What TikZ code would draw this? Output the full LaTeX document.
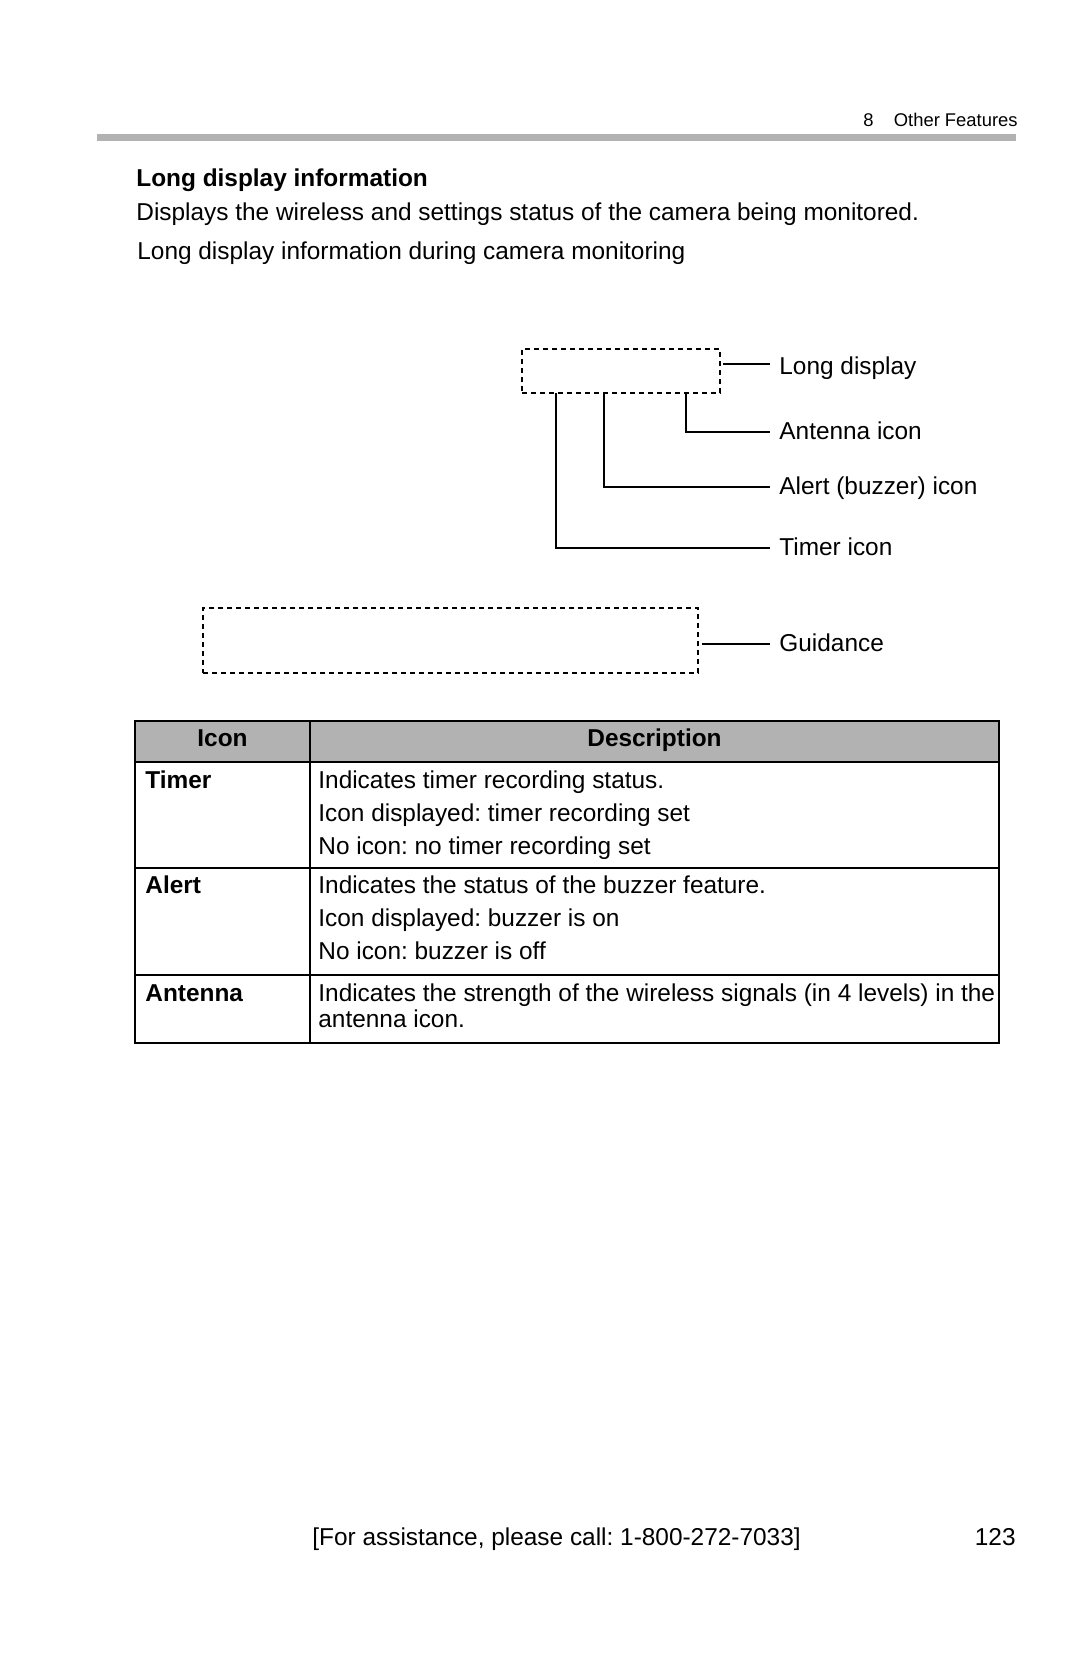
\documentclass[tikz,border=0pt]{standalone}
\usepackage{fontspec}
\setmainfont{Liberation Sans}
\usetikzlibrary{positioning}
\frenchspacing

\newcommand{\bodyfont}{\fontsize{12.2}{14}\selectfont}
\newcommand{\headfont}{\fontsize{9.2}{11}\selectfont}

\tikzset{
  txt/.style={anchor=west, inner xsep=0pt, inner ysep=0pt, text height=0.72em, text depth=0pt, yshift=-1pt, font=\bodyfont},
  bold/.style={txt, font=\bodyfont\bfseries},
  callout/.style={txt, inner xsep=4.5pt},
  dashbox/.style={draw, line width=0.9pt, dash pattern=on 2.5pt off 2pt, inner sep=0pt},
  leader/.style={line width=0.9pt},
  tbl/.style={line width=0.6pt},
}

\begin{document}
\begin{tikzpicture}[x=0.5pt, y=-0.5pt]
    \useasboundingbox (0,0) rectangle (1080,1669);

    % page header
    \node[txt, anchor=east, font=\headfont] (chapter) at (1018,117) {8\hspace{1.1em}Other Features};
    \fill[black!30] (97,134) rectangle (1016,141.5);

    \node[bold] (title) at (136,177) {Long display information};
    \node[txt] (intro) at (136,211) {Displays the wireless and settings status of the camera being monitored.};
    \node[txt] (caption) at (137,250) {Long display information during camera monitoring};

    % screen parts
    \node[dashbox, minimum width=99pt, minimum height=22pt] (ldbox) at (621,371) {};
    \node[dashbox, minimum width=247.5pt, minimum height=32.5pt] (gdbox) at (450.5,640.5) {};

    \node[callout] (ldlabel) at (770,365) {Long display};
    \node[callout] (antlabel) at (770,430) {Antenna icon};
    \node[callout] (alertlabel) at (770,485) {Alert (buzzer) icon};
    \node[callout] (timerlabel) at (770,546) {Timer icon};
    \node[callout] (gdlabel) at (770,642) {Guidance};

    \coordinate (antpt) at (686,393);
    \coordinate (alertpt) at (604,393);
    \coordinate (timerpt) at (556,393);

    \draw[leader] ([xshift=1pt, yshift=1.5pt]ldbox.east |- ldlabel.west) -- ([yshift=1.5pt]ldlabel.west);
    \draw[leader] (antpt) |- (antlabel.west);
    \draw[leader] (alertpt) |- (alertlabel.west);
    \draw[leader] (timerpt) |- (timerlabel.west);
    \draw[leader] ([xshift=1.5pt]gdbox.east |- gdlabel.west) -- (gdlabel.west);

    % table
    \fill[black!30] (135,721) rectangle (999,762);
    \draw[tbl] (135,721) rectangle (999,1043);
    \draw[tbl] (310,721) -- (310,1043);
    \draw[tbl] (135,762) -- (999,762);
    \draw[tbl] (135,868) -- (999,868);
    \draw[tbl] (135,975) -- (999,975);

    \node[bold, anchor=center] (hdicon) at (222.5,737) {Icon};
    \node[bold, anchor=center] (hddesc) at (654.5,737) {Description};

    \node[bold] (timer) at (145,779) {Timer};
    \node[txt] (timerA) at (318,779) {Indicates timer recording status.};
    \node[txt] (timerB) at (318,812) {Icon displayed: timer recording set};
    \node[txt] (timerC) at (318,845) {No icon: no timer recording set};

    \node[bold] (alert) at (145,884) {Alert};
    \node[txt] (alertA) at (318,884) {Indicates the status of the buzzer feature.};
    \node[txt] (alertB) at (318,917) {Icon displayed: buzzer is on};
    \node[txt] (alertC) at (318,950) {No icon: buzzer is off};

    \node[bold] (antenna) at (145,992) {Antenna};
    \node[txt] (antennaA) at (318,992) {Indicates the strength of the wireless signals (in 4 levels) in the};
    \node[txt] (antennaB) at (318,1018) {antenna icon.};

    % page footer
    \node[txt] (help) at (312,1536) {[For assistance, please call: 1-800-272-7033]};
    \node[txt, anchor=east] (pageno) at (1016,1536) {123};
\end{tikzpicture}
\end{document}
